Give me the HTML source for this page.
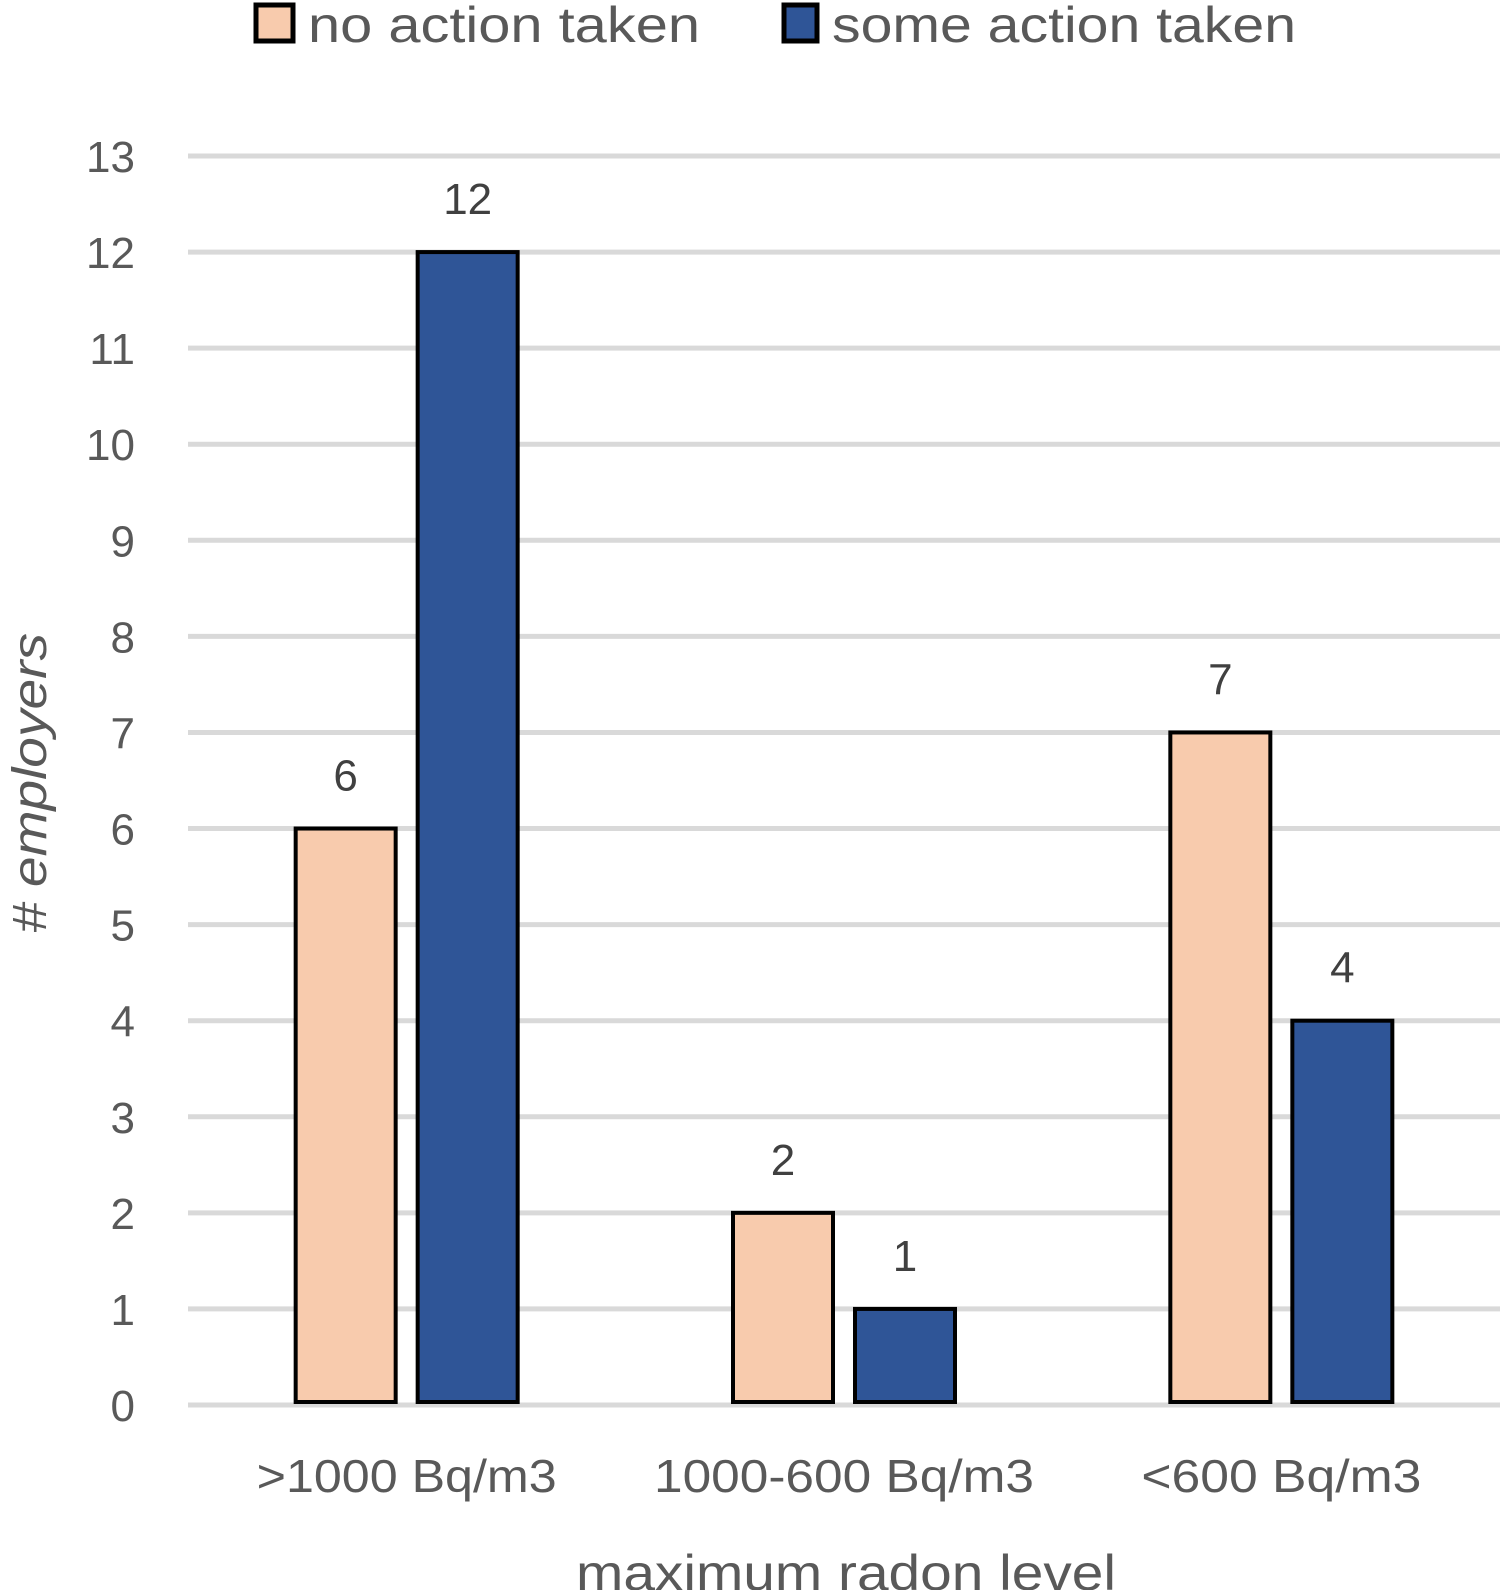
<!DOCTYPE html>
<html><head><meta charset="utf-8"><style>
html,body{margin:0;padding:0;background:#fff;}
svg{display:block;font-family:"Liberation Sans",sans-serif;}
</style></head><body>
<svg id="chart" width="1500" height="1590" viewBox="0 0 1500 1590">
<g>
 <g>
  <rect x="256" y="5" width="37" height="36" fill="#f8cbad" stroke="#000" stroke-width="5"/>
  <text x="308" y="42" font-size="50" fill="#595959" textLength="392" lengthAdjust="spacingAndGlyphs">no action taken</text>
 </g>
 <g>
  <rect x="784" y="5" width="33" height="36" fill="#2f5597" stroke="#000" stroke-width="5"/>
  <text x="832" y="42" font-size="50" fill="#595959" textLength="464" lengthAdjust="spacingAndGlyphs">some action taken</text>
 </g>
</g>
<g id="grid"></g>
<g id="yticks"></g>
<g id="bars"></g>
<g id="labels"></g>
<g id="xticks"></g>
<text transform="translate(46,783) rotate(-90)" text-anchor="middle" font-size="48" font-style="italic" fill="#595959" textLength="300" lengthAdjust="spacingAndGlyphs"># employers</text>
<text x="846" y="1590" text-anchor="middle" font-size="50" fill="#595959" textLength="540" lengthAdjust="spacingAndGlyphs">maximum radon level</text>
</svg>
<script>
const categories = [">1000 Bq/m3", "1000-600 Bq/m3", "<600 Bq/m3"];
const noAction = [6, 2, 7];
const someAction = [12, 1, 4];
const yTicks = [0,1,2,3,4,5,6,7,8,9,10,11,12,13];
const catLabelWidths = [300, 380, 280];

const NS = "http://www.w3.org/2000/svg";
const x0 = 188, x1 = 1500, yBase = 1405, yTop = 156, yMax = 13;
const y = v => yBase - (yBase - yTop) * v / yMax;
const bandW = (x1 - x0) / categories.length;
const xc = i => x0 + bandW * (i + 0.5);
const barW = 100, gap = 22;
function mk(tag, attrs, parent) {
  const e = document.createElementNS(NS, tag);
  for (const k in attrs) e.setAttribute(k, attrs[k]);
  parent.appendChild(e);
  return e;
}
const grid = document.getElementById('grid'), yt = document.getElementById('yticks');
yTicks.forEach(t => {
  const l = mk('line', {x1: x0, x2: x1, y1: y(t), y2: y(t), stroke: '#d9d9d9', 'stroke-width': 5}, grid);
  
  
  const tx = mk('text', {x: 135, y: y(t) + 16, 'text-anchor': 'end', 'font-size': 44, fill: '#595959'}, yt);
  tx.textContent = t;
  
  
});
const bars = document.getElementById('bars'), labels = document.getElementById('labels'), xt = document.getElementById('xticks');
categories.forEach((c, i) => {
  [[noAction[i], '#f8cbad', -1], [someAction[i], '#2f5597', 1]].forEach(([v, col, side]) => {
    const bx = side < 0 ? xc(i) - gap / 2 - barW : xc(i) + gap / 2;
    const r = mk('rect', {x: bx, y: y(v), width: barW, height: yBase - 3 - y(v), fill: col, stroke: '#000', 'stroke-width': 4}, bars);
    
    
    const lb = mk('text', {x: bx + barW / 2, y: y(v) - 38, 'text-anchor': 'middle', 'font-size': 44, fill: '#404040'}, labels);
    lb.textContent = v;
    
    
  });
  const ct = mk('text', {x: xc(i), y: 1492, 'text-anchor': 'middle', 'font-size': 46, fill: '#595959', textLength: catLabelWidths[i], lengthAdjust: 'spacingAndGlyphs'}, xt);
  ct.textContent = c;
  
  
});
</script>
</body></html>
